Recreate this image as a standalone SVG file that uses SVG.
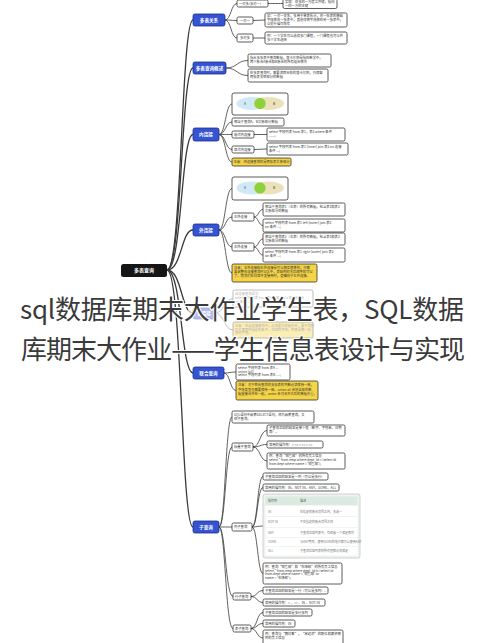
<svg xmlns="http://www.w3.org/2000/svg" width="490" height="643" viewBox="0 0 490 643">
<defs>
<style>
.t{font-family:"Noto Sans CJK SC","Noto Sans",sans-serif;font-size:3.3px;fill:#333}
.tt{font-family:"Noto Sans CJK SC","Noto Sans",sans-serif;font-size:3px;fill:#777}
.bt{font-family:"Noto Sans CJK SC",sans-serif;font-size:4.6px;fill:#fff;text-anchor:middle;font-weight:bold}
.b{fill:#3554d1;stroke:#1c2e8c;stroke-width:0.8}
.n{fill:#fff;stroke:#333;stroke-width:0.8}
.y{fill:#f6d447;stroke:#333;stroke-width:0.8}
.c path{fill:none;stroke:#3a3a3a;stroke-width:0.8}
.c path.tr{stroke-width:1.3}
.ea{fill:#cfe9f7}
.eb{fill:#ebe2bb}
.eg{fill:#8fd13c}
.title{font-family:"Noto Sans CJK SC",sans-serif;font-size:26px;fill:#3a3a3a;stroke:#fff;stroke-width:2;paint-order:stroke}
</style>
</defs>
<rect width="490" height="643" fill="#fff"/>

<g id="connectors" class="c">
<path class="tr" d="M167,270 C182,270 181,20 193,20"/>
<path class="tr" d="M167,270 C182,270 181,68 193,68"/>
<path class="tr" d="M167,270 C182,270 181,134.5 193,134.5"/>
<path class="tr" d="M167,270 C182,270 181,230 193,230"/>
<path class="tr" d="M167,270 C182,270 181,313 193,313"/>
<path class="tr" d="M167,270 C182,270 181,373 193,373"/>
<path class="tr" d="M167,270 C182,270 181,527 193,527"/>
<path d="M225,20 C231,20 231,3.5 237,3.5"/>
<path d="M225,20 C231,20 231,20.5 237,20.5"/>
<path d="M225,20 C231,20 231,38 237,38"/>
<path d="M268,3.5 C275,3.5 276,3.5 283,3.5"/>
<path d="M253,20.5 L265,20"/>
<path d="M253,38 L265,38"/>
<path d="M226,68 C237,68 237,60.5 248,60.5"/>
<path d="M226,68 C237,68 237,75.5 248,75.5"/>
<path d="M219,134.5 C225.5,134.5 225.5,104 232,104"/>
<path d="M219,134.5 C225.5,134.5 225.5,122 232,122"/>
<path d="M219,134.5 C225.5,134.5 225.5,134.5 232,134.5"/>
<path d="M219,134.5 C225.5,134.5 225.5,149.5 232,149.5"/>
<path d="M219,134.5 C225.5,134.5 225.5,162 232,162"/>
<path d="M254,134.5 L267,134.5"/>
<path d="M254,149.5 L267,149"/>
<path d="M219,230 C225.5,230 225.5,188.5 232,188.5"/>
<path d="M219,230 C225.5,230 225.5,217 232,217"/>
<path d="M219,230 C225.5,230 225.5,247 232,247"/>
<path d="M219,230 C225.5,230 225.5,273 232,273"/>
<path d="M254,217 C258.5,217 258.5,209.5 263,209.5"/>
<path d="M254,217 C258.5,217 258.5,225.5 263,225.5"/>
<path d="M254,247 C258.5,247 258.5,239 263,239"/>
<path d="M254,247 C258.5,247 258.5,255 263,255"/>
<path d="M215,313 C224,313 224,298.5 233,298.5"/>
<path d="M215,313 C224,313 224,330 233,330"/>
<path d="M224,373 C230,373 230,372 236,372"/>
<path d="M224,373 C230,373 230,390.5 236,390.5"/>
<path d="M219,527 C225.5,527 225.5,417 232,417"/>
<path d="M219,527 C225.5,527 225.5,447 232,447"/>
<path d="M219,527 C225.5,527 225.5,527 232,527"/>
<path d="M219,527 C225.5,527 225.5,596.5 233,596.5"/>
<path d="M219,527 C225.5,527 225.5,628.5 233,628.5"/>
<path d="M253,447 C260,447 260,430.5 267,430.5"/>
<path d="M253,447 C260,447 260,444.5 267,444.5"/>
<path d="M253,447 C260,447 260,461 267,461"/>
<path d="M252,527 C257.5,527 257.5,476.5 263,476.5"/>
<path d="M252,527 C257.5,527 257.5,487.5 263,487.5"/>
<path d="M252,527 C257.5,527 257.5,526 263,526"/>
<path d="M252,527 C257.5,527 257.5,573.5 263,573.5"/>
<path d="M251,596.5 C257,596.5 257,590.5 263,590.5"/>
<path d="M251,596.5 C257,596.5 257,602.5 263,602.5"/>
<path d="M251,628.5 C257,628.5 257,612.5 263,612.5"/>
<path d="M251,628.5 C257,628.5 257,623.5 263,623.5"/>
<path d="M251,628.5 C257,628.5 257,638 263,638"/>
</g>

<g id="root"><rect x="121" y="264" width="46" height="13" rx="2.5" fill="#151515"/><text x="144" y="272.4" class="bt" style="font-size:5px">多表查询</text></g>

<g id="n-rel"><rect class="b" x="193" y="14" width="32" height="12" rx="2"/><text class="bt" x="209" y="21.6">多表关系</text></g>
<g id="n-overview"><rect class="b" x="193" y="62" width="33" height="12" rx="2"/><text class="bt" x="209.5" y="69.6">多表查询概述</text></g>
<g id="n-inner"><rect class="b" x="193" y="128" width="26" height="13" rx="2"/><text class="bt" x="206" y="136.2">内连接</text></g>
<g id="n-outer"><rect class="b" x="193" y="224" width="26" height="12" rx="2"/><text class="bt" x="206" y="231.6">外连接</text></g>
<g id="n-self"><rect class="b" x="193" y="308" width="22" height="11" rx="2"/><text class="bt" x="204" y="315.2">自连接</text></g>
<g id="n-union"><rect class="b" x="193" y="367" width="31" height="12" rx="2"/><text class="bt" x="208.5" y="374.6">联合查询</text></g>
<g id="n-sub"><rect class="b" x="193" y="521" width="26" height="12" rx="2"/><text class="bt" x="206" y="528.6">子查询</text></g>

<g id="r1"><rect class="n" x="237" y="0" width="31" height="7" rx="1.5"/><text class="t" x="239" y="4.6">一对多(多对一)</text></g>
<g id="r1c"><rect class="n" x="283" y="-1" width="54" height="9.5" rx="1.5"/><text class="t" x="285" y="3.2">实现：在多的一方建立外键，指向</text><text class="t" x="285" y="7">一的一方的主键</text></g>
<g id="r2"><rect class="n" x="237" y="17" width="16" height="7" rx="1.5"/><text class="t" x="240" y="21.8">一对一</text></g>
<g id="r2c"><rect class="n" x="265" y="13" width="82" height="14" rx="1.5"/><text class="t" x="267" y="17"><tspan x="267">如：一对一关系，多用于单表拆分，将一张表的基础</tspan><tspan x="267" dy="3.8">字段放在一张表中，其他详情字段放在另一张表中，</tspan><tspan x="267" dy="3.8">以提升操作效率</tspan></text></g>
<g id="r3"><rect class="n" x="237" y="34" width="16" height="8" rx="1.5"/><text class="t" x="240" y="39.2">多对多</text></g>
<g id="r3c"><rect class="n" x="265" y="32" width="82" height="12" rx="1.5"/><text class="t" x="267" y="36.8"><tspan x="267">例：一个学生可以选修多门课程，一门课程也可以供</tspan><tspan x="267" dy="3.9">多个学生选择</tspan></text></g>

<g id="o1"><rect class="n" x="248" y="54" width="83" height="13" rx="1.5"/><text class="t" y="58.8"><tspan x="250">指从多张表中查询数据，笛卡尔积是指在数学中，</tspan><tspan x="250" dy="4">两个集合A集合和B集合的所有组合情况</tspan></text></g>
<g id="o2"><rect class="n" x="248" y="69" width="80" height="13" rx="1.5"/><text class="t" y="73.8"><tspan x="250">在多表查询时，需要消除无效的笛卡尔积，只保留</tspan><tspan x="250" dy="4">两张表关联部分的数据</tspan></text></g>

<g id="i-venn"><rect class="n" x="232" y="93" width="56" height="22" rx="2"/><ellipse class="ea" cx="251.5" cy="103.5" rx="15" ry="6.5"/><ellipse class="eb" cx="268.5" cy="103.5" rx="15.5" ry="6.5"/><circle class="eg" cx="260" cy="103.5" r="5.7"/><text class="t" x="244" y="104.7">A</text><text class="t" x="273" y="104.7">B</text></g>
<g id="i1"><rect class="n" x="232" y="118" width="52" height="8" rx="1.5"/><text class="t" x="234" y="123.2">相当于查询A、B交集部分数据</text></g>
<g id="i2"><rect class="n" x="232" y="131" width="22" height="7" rx="1.5"/><text class="t" x="234" y="135.8">隐式内连接</text></g>
<g id="i2c"><rect class="n" x="267" y="128" width="78" height="13" rx="1.5"/><text class="t" y="132.8"><tspan x="269">select 字段列表 from 表1，表2 where 条件</tspan><tspan x="269" dy="4">......;</tspan></text></g>
<g id="i3"><rect class="n" x="232" y="146" width="22" height="7" rx="1.5"/><text class="t" x="234" y="150.8">显式内连接</text></g>
<g id="i3c"><rect class="n" x="267" y="143" width="81" height="12" rx="1.5"/><text class="t" y="147.6"><tspan x="269">select 字段列表 from 表1 [inner] join 表2 on 连接</tspan><tspan x="269" dy="3.9">条件 ...;</tspan></text></g>
<g id="i4"><rect class="y" x="232" y="158" width="59" height="8" rx="1.5"/><text class="t" x="233.5" y="163.2">注意：内连接查询的是两张表交集部分</text></g>

<g id="o-venn"><rect class="n" x="232" y="177" width="56" height="23" rx="2"/><ellipse class="ea" cx="251.5" cy="188" rx="15" ry="6.5"/><ellipse class="eb" cx="268.5" cy="188" rx="15.5" ry="6.5"/><circle class="eg" cx="260" cy="188" r="5.7"/><text class="t" x="244" y="189.2">A</text><text class="t" x="273" y="189.2">B</text></g>
<g id="l1"><rect class="n" x="232" y="213" width="22" height="8" rx="1.5"/><text class="t" x="234" y="218.2">左外连接</text></g>
<g id="l1a"><rect class="n" x="263" y="203" width="82" height="13" rx="1.5"/><text class="t" y="207.8"><tspan x="265">相当于查询表1（左表）的所有数据，包含表1和表2</tspan><tspan x="265" dy="4">交集部分的数据</tspan></text></g>
<g id="l1b"><rect class="n" x="263" y="219" width="82" height="13" rx="1.5"/><text class="t" y="223.8"><tspan x="265">select 字段列表 from 表1 left [outer] join 表2</tspan><tspan x="265" dy="4">on 条件 ...;</tspan></text></g>
<g id="rj"><rect class="n" x="232" y="243" width="22" height="8" rx="1.5"/><text class="t" x="234" y="248.2">右外连接</text></g>
<g id="rja"><rect class="n" x="263" y="233" width="82" height="12" rx="1.5"/><text class="t" y="237.6"><tspan x="265">相当于查询表2（右表）的所有数据，包含表1和表2</tspan><tspan x="265" dy="3.9">交集部分的数据</tspan></text></g>
<g id="rjb"><rect class="n" x="263" y="248" width="82" height="14" rx="1.5"/><text class="t" y="253.2"><tspan x="265">select 字段列表 from 表1 right [outer] join 表2</tspan><tspan x="265" dy="4">on 条件 ...;</tspan></text></g>
<g id="o-note"><rect class="y" x="232" y="264" width="85" height="18" rx="1.5"/><text class="t" y="269"><tspan x="234">注意：左外连接和右外连接是可以相互替换的，只需</tspan><tspan x="234" dy="4">要调整在连接查询时SQL中，表结构的先后顺序就可以</tspan><tspan x="234" dy="4">了。而我们在日常开发使用时，更偏向于左外连接。</tspan></text></g>

<g id="self1"><rect class="n" x="233" y="290" width="80" height="17" rx="1.5"/><text class="t" y="294.8"><tspan x="235">自连接查询语法：</tspan><tspan x="235" dy="4">select 字段列表 from 表A 别名A join 表A 别名B</tspan><tspan x="235" dy="4">on 条件 ...;</tspan></text></g>
<g id="self2"><rect class="y" x="233" y="322" width="80" height="16" rx="1.5"/><text class="t" y="326.6"><tspan x="235">注意：在自连接查询中，必须要为表起别名，要不然我</tspan><tspan x="235" dy="3.9">们不清楚所指定的条件、返回的字段，到底是哪一张</tspan><tspan x="235" dy="3.9">表的字段。</tspan></text></g>

<g id="u1"><rect class="n" x="236" y="364" width="54" height="16" rx="1.5"/><text class="t" y="368.6"><tspan x="238">select 字段列表 from 表A ...</tspan><tspan x="238" dy="3.9">union [all]</tspan><tspan x="238" dy="3.9">select 字段列表 from 表B ....;</tspan></text></g>
<g id="u2"><rect class="y" x="236" y="381" width="82" height="19" rx="1.5"/><text class="t" y="386.4"><tspan x="238">注意：对于联合查询的多张表的列数必须保持一致，</tspan><tspan x="238" dy="4.2">字段类型也需要保持一致。union all 会将全部的数</tspan><tspan x="238" dy="4.2">据直接合并在一起，union 会对合并之后的数据去重。</tspan></text></g>

<g id="s1"><rect class="n" x="232" y="411" width="82" height="12" rx="1.5"/><text class="t" y="415.6"><tspan x="234">SQL语句中嵌套SELECT语句，称为嵌套查询，又</tspan><tspan x="234" dy="3.9">称子查询。</tspan></text></g>
<g id="s2"><rect class="n" x="232" y="443" width="21" height="8" rx="1.5"/><text class="t" x="234" y="448.2">标量子查询</text></g>
<g id="s2a"><rect class="n" x="267" y="425" width="78" height="11" rx="1.5"/><text class="t" y="429.2"><tspan x="269">子查询返回的结果是单个值（数字、字符串、日期</tspan><tspan x="269" dy="3.9">等）。</tspan></text></g>
<g id="s2b"><rect class="n" x="267" y="441" width="56" height="7" rx="1.5"/><text class="t" x="269" y="445.8">常用的操作符：= &lt;&gt; &gt; &gt;= &lt; &lt;=</text></g>
<g id="s2c"><rect class="n" x="267" y="453" width="78" height="16" rx="1.5"/><text class="t" y="457.4"><tspan x="269">例：查询“销售部”的所有员工信息</tspan><tspan x="269" dy="3.9">select * from emp where dept_id = (select id</tspan><tspan x="269" dy="3.9">from dept where name = '销售部');</tspan></text></g>
<g id="s3"><rect class="n" x="232" y="523" width="20" height="8" rx="1.5"/><text class="t" x="234" y="528.2">列子查询</text></g>
<g id="s3a"><rect class="n" x="263" y="473" width="65" height="7" rx="1.5"/><text class="t" x="265" y="477.8">子查询返回的结果是一列（可以是多行）</text></g>
<g id="s3b"><rect class="n" x="263" y="484" width="76" height="7" rx="1.5"/><text class="t" x="265" y="488.8">常用的操作符：IN、NOT IN、ANY、SOME、ALL</text></g>
<g id="s3t">
<rect x="263" y="494" width="97" height="64" rx="2" fill="#eef3ef" stroke="#c4c9c5" stroke-width="0.8"/>
<rect x="265.5" y="496.5" width="92" height="9" fill="#dcebe1"/>
<rect x="265.5" y="505.5" width="92" height="50" fill="#fff"/>
<path d="M265.5,516.5 H357.5 M265.5,527.5 H357.5 M265.5,537.5 H357.5 M265.5,546.5 H357.5" stroke="#e6e6e6" stroke-width="0.5"/>
<text class="tt" x="268" y="502" style="fill:#555">操作符</text><text class="tt" x="300" y="502" style="fill:#555">描述</text>
<text class="tt" x="268" y="512.6">IN</text><text class="tt" x="300" y="512.6">在指定的集合范围之内，多选一</text>
<text class="tt" x="268" y="523.4">NOT IN</text><text class="tt" x="300" y="523.4">不在指定的集合范围之内</text>
<text class="tt" x="268" y="533.6">ANY</text><text class="tt" x="300" y="533.6">子查询返回列表中，有任意一个满足即可</text>
<text class="tt" x="268" y="542.8">SOME</text><text class="tt" x="300" y="542.8">与ANY等同，使用SOME的地方都可以使用ANY</text>
<text class="tt" x="268" y="552.4">ALL</text><text class="tt" x="300" y="552.4">子查询返回列表的所有值都必须满足</text>
</g>
<g id="s3c"><rect class="n" x="263" y="563" width="79" height="21" rx="1.5"/><text class="t" y="567.6"><tspan x="265">例：查询“销售部”和“市场部”的所有员工信息</tspan><tspan x="265" dy="3.9">select * from emp where dept_id in (select id</tspan><tspan x="265" dy="3.9">from dept where name = '销售部' or</tspan><tspan x="265" dy="3.9">name = '市场部');</tspan></text></g>
<g id="s4"><rect class="n" x="233" y="593" width="18" height="7" rx="1.5"/><text class="t" x="235" y="597.8">行子查询</text></g>
<g id="s4a"><rect class="n" x="263" y="587" width="65" height="7" rx="1.5"/><text class="t" x="265" y="591.8">子查询返回的结果是一行（可以是多列）。</text></g>
<g id="s4b"><rect class="n" x="263" y="599" width="62" height="7" rx="1.5"/><text class="t" x="265" y="603.8">常用的操作符：= 、&lt;&gt; 、IN 、NOT IN</text></g>
<g id="s5"><rect class="n" x="233" y="625" width="18" height="7" rx="1.5"/><text class="t" x="235" y="629.8">表子查询</text></g>
<g id="s5a"><rect class="n" x="263" y="609" width="49" height="7" rx="1.5"/><text class="t" x="265" y="613.8">子查询返回的结果是多行多列</text></g>
<g id="s5b"><rect class="n" x="263" y="620" width="32" height="7" rx="1.5"/><text class="t" x="265" y="624.8">常用的操作符：IN</text></g>
<g id="s5c"><rect class="n" x="263" y="630" width="80" height="16" rx="1.5"/><text class="t" y="634.6"><tspan x="265">例：查询与“鹿杖客”，“宋远桥”的职位和薪资相</tspan><tspan x="265" dy="3.9">同的员工信息</tspan></text></g>

<rect x="188" y="287" width="302" height="76" fill="#fff" opacity="0.6"/>

<g id="title">
<text class="title" x="20" y="319" textLength="444" lengthAdjust="spacing">sql数据库期末大作业学生表，SQL数据</text>
<text class="title" x="21" y="359" textLength="444" lengthAdjust="spacing">库期末大作业——学生信息表设计与实现</text>
</g>
</svg>
